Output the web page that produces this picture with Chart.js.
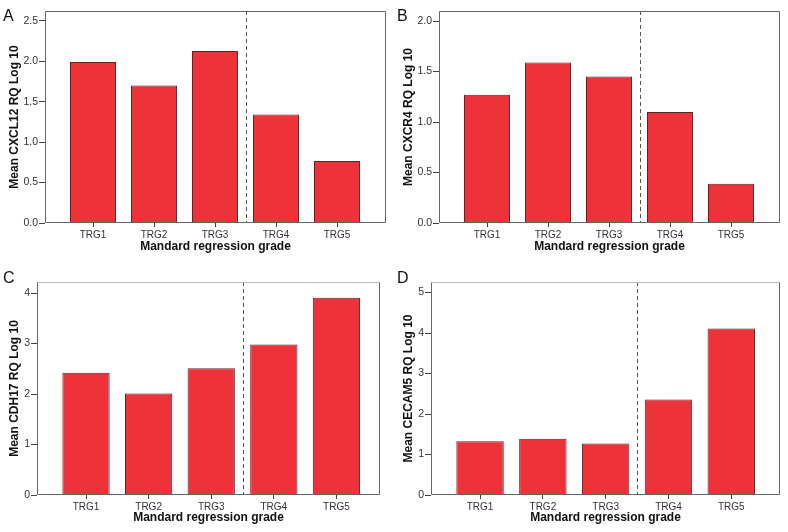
<!DOCTYPE html>
<html>
<head>
<meta charset="utf-8">
<script src="https://cdn.jsdelivr.net/npm/chart.js@4/dist/chart.umd.min.js"></script>
<style>
body { margin: 0; background: #fff; }
#wrap { position: relative; width: 788px; height: 532px; }
.cell { position: absolute; width: 394px; height: 266px; }
</style>
</head>
<body>
<div id="wrap">
  <div class="cell" style="left:0;top:0"><canvas id="cA" width="394" height="266"></canvas></div>
  <div class="cell" style="left:394px;top:0"><canvas id="cB" width="394" height="266"></canvas></div>
  <div class="cell" style="left:0;top:266px"><canvas id="cC" width="394" height="266"></canvas></div>
  <div class="cell" style="left:394px;top:266px"><canvas id="cD" width="394" height="266"></canvas></div>
</div>
<script>
// data
var categories = ['TRG1', 'TRG2', 'TRG3', 'TRG4', 'TRG5'];
var cxcl12 = [1.99, 1.70, 2.125, 1.34, 0.765];
var cxcr4 = [1.27, 1.59, 1.45, 1.10, 0.39];
var cdh17 = [2.42, 2.01, 2.51, 2.98, 3.91];
var cecam5 = [1.33, 1.39, 1.27, 2.36, 4.11];
var yTitles = ['Mean CXCL12 RQ Log 10', 'Mean CXCR4 RQ Log 10', 'Mean CDH17 RQ Log 10', 'Mean CECAM5 RQ Log 10'];
var panelLetters = ['A', 'B', 'C', 'D'];
var xTitle = 'Mandard regression grade';

var FONT = 'Liberation Sans, Arial, Helvetica, sans-serif';

// per panel: canvas, values, axis ranges and layout
var panels = [
    { id: 'cA', data: cxcl12, ymax: 2.62, step: 0.5, dec: 1, xmin: 0.213, xmax: 5.803, top: 11, right: 8, yw: 45, xh: 43, xpad: 2, xtb: 12, letterY: 21, frameTop: '#666' },
    { id: 'cB', data: cxcr4, ymax: 2.1, step: 0.5, dec: 1, xmin: 0.213, xmax: 5.803, top: 11, right: 8, yw: 45, xh: 43, xpad: 2, xtb: 12, letterY: 21, frameTop: '#666' },
    { id: 'cC', data: cdh17, ymax: 4.22, step: 1, dec: 0, xmin: 0.217, xmax: 5.696, top: 16, right: 14, yw: 37, xh: 37, xpad: 2, xtb: 7, letterY: 17, frameTop: '#bbb' },
    { id: 'cD', data: cecam5, ymax: 5.26, step: 1, dec: 0, xmin: 0.219, xmax: 5.776, top: 16, right: 8, yw: 37, xh: 37, xpad: 2, xtb: 7, letterY: 17, frameTop: '#bbb' }
];

// dashed divider, frame and panel letter
var decor = {
    id: 'decor',
    beforeDatasetsDraw: function (chart) {
        var ctx = chart.ctx, a = chart.chartArea;
        var x = Math.round(chart.scales.x.getPixelForValue(3.5)) + 0.5;
        ctx.save();
        ctx.strokeStyle = '#555';
        ctx.lineWidth = 1;
        ctx.setLineDash([4, 3]);
        ctx.beginPath();
        ctx.moveTo(x, a.top);
        ctx.lineTo(x, a.bottom);
        ctx.stroke();
        ctx.restore();
    },
    afterDatasetsDraw: function (chart, args, opts) {
        var ctx = chart.ctx, a = chart.chartArea;
        var l = Math.round(a.left) + 0.5, r = Math.round(a.right) - 0.5;
        var t = Math.round(a.top) + 0.5, b = Math.round(a.bottom) - 0.5;
        ctx.save();
        ctx.lineWidth = 1;
        ctx.strokeStyle = opts.frameTop;
        ctx.beginPath();
        ctx.moveTo(l, t); ctx.lineTo(r, t);
        ctx.stroke();
        ctx.strokeStyle = '#666';
        ctx.beginPath();
        ctx.moveTo(r, t); ctx.lineTo(r, b); ctx.lineTo(l, b); ctx.lineTo(l, t);
        ctx.stroke();
        ctx.fillStyle = '#111';
        ctx.font = '16px ' + FONT;
        ctx.textBaseline = 'alphabetic';
        ctx.fillText(opts.letter, 3, opts.letterY);
        ctx.restore();
    }
};

panels.forEach(function (p, k) {
    new Chart(document.getElementById(p.id), {
        type: 'bar',
        plugins: [decor],
        data: {
            datasets: [{
                data: p.data.map(function (v, i) { return { x: i + 1, y: v }; }),
                backgroundColor: '#EE3239',
                borderColor: '#5e2323',
                borderWidth: 1,
                barPercentage: 0.755,
                categoryPercentage: 1
            }]
        },
        options: {
            responsive: false,
            animation: false,
            layout: { padding: { top: p.top, right: p.right, left: 0, bottom: 0 } },
            plugins: {
                legend: { display: false },
                tooltip: { enabled: false },
                decor: { letter: panelLetters[k], letterY: p.letterY, frameTop: p.frameTop }
            },
            scales: {
                x: {
                    type: 'linear',
                    min: p.xmin,
                    max: p.xmax,
                    offset: false,
                    afterFit: function (s) { s.height = p.xh; },
                    grid: { offset: false, drawOnChartArea: false, tickLength: 4, tickColor: '#444' },
                    border: { display: false },
                    ticks: {
                        stepSize: 1, includeBounds: false, autoSkip: false, maxRotation: 0,
                        padding: p.xpad, color: '#333', font: { family: FONT, size: 10 },
                        callback: function (v) { return categories[v - 1]; }
                    },
                    title: {
                        display: true, text: xTitle, color: '#111',
                        font: { family: FONT, size: 12, weight: 'bold' },
                        padding: { top: 0, bottom: p.xtb }
                    }
                },
                y: {
                    min: 0,
                    max: p.ymax,
                    afterFit: function (s) { s.width = p.yw; },
                    grid: { drawOnChartArea: false, tickLength: 6, tickColor: '#444' },
                    border: { display: false },
                    ticks: {
                        stepSize: p.step, includeBounds: false, padding: 1,
                        color: '#333', font: { family: FONT, size: 10.5 },
                        callback: function (v) { return v.toFixed(p.dec); }
                    },
                    title: {
                        display: true, text: yTitles[k], color: '#111',
                        font: { family: FONT, size: 12, weight: 'bold' },
                        padding: { top: 7, bottom: 0 }
                    }
                }
            }
        }
    });
});
</script>
</body>
</html>
